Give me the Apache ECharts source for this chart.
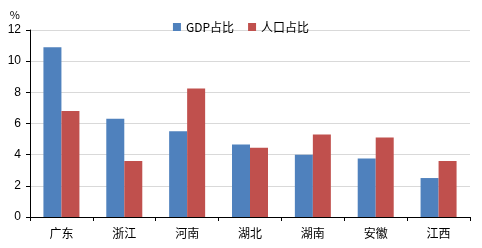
<!DOCTYPE html>
<html><head><meta charset="utf-8">
<script src="https://cdn.jsdelivr.net/npm/echarts@6/dist/echarts.min.js"></script>
<style>html,body{margin:0;padding:0;background:#fff}#c{width:482px;height:248px}</style>
</head><body><div id="c"></div>
<script>
const categories = ['广东','浙江','河南','湖北','湖南','安徽','江西'];
const gdpShare = [10.9, 6.3, 5.5, 4.65, 4.0, 3.75, 2.5];
const popShare = [6.8, 3.6, 8.25, 4.45, 5.3, 5.1, 3.6];
const seriesNames = ['GDP占比','人口占比'];
const yTicks = {min: 0, max: 12, interval: 2};

const font = '"Noto Sans CJK SC", "Noto Sans", sans-serif';
const chart = echarts.init(document.getElementById('c'));
chart.setOption({
  animation: false,
  textStyle: {fontFamily: font},
  grid: {left: 30, right: 12, top: 30, bottom: 31, containLabel: false},
  legend: {
    data: seriesNames, top: 16, left: 'center', itemWidth: 8, itemHeight: 8, itemGap: 14,
    icon: 'rect', textStyle: {fontSize: 12, color: '#000', fontFamily: font}
  },
  xAxis: {
    type: 'category', data: categories,
    axisLine: {lineStyle: {color: '#000', width: 1}},
    axisTick: {show: true, length: 4, lineStyle: {color: '#000'}},
    axisLabel: {fontSize: 12, color: '#000', margin: 10, fontFamily: font}
  },
  yAxis: {
    type: 'value', min: yTicks.min, max: yTicks.max, interval: yTicks.interval,
    name: '%', nameLocation: 'end', nameGap: 10,
    nameTextStyle: {fontSize: 11, color: '#000', align: 'right', padding: [0, 10, 0, 0]},
    axisLine: {show: true, lineStyle: {color: '#000', width: 1}},
    axisTick: {show: true, length: 4, lineStyle: {color: '#000'}},
    axisLabel: {fontSize: 12, color: '#000', margin: 9, fontFamily: 'Liberation Sans, Arial, sans-serif'},
    splitLine: {show: true, lineStyle: {color: '#d9d9d9', width: 1}}
  },
  series: [
    {name: seriesNames[0], type: 'bar', data: gdpShare, barWidth: 18, barGap: '0%', itemStyle: {color: '#4F81BD'}},
    {name: seriesNames[1], type: 'bar', data: popShare, barWidth: 18, barGap: '0%', itemStyle: {color: '#C0504D'}}
  ]
});
</script></body></html>
